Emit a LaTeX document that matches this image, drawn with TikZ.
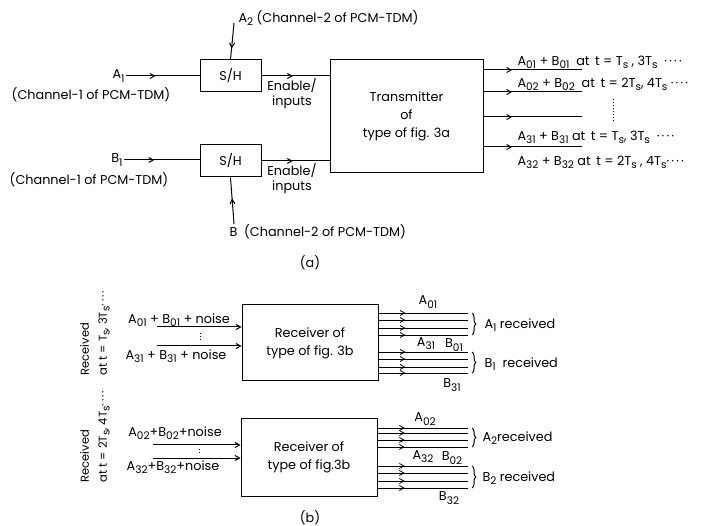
\documentclass[tikz,border=0pt]{standalone}
\usepackage{fontspec}
\setmainfont{Poppins}
\usetikzlibrary{arrows.meta, decorations.markings, decorations.pathreplacing}

% lowered subscript as printed in the figure
\newcommand{\lo}[1]{\raisebox{-0.45ex}{\fontsize{10.5}{11}\selectfont #1}}
\newcommand{\dotrow}{\textperiodcentered\,\textperiodcentered\,\textperiodcentered\,\textperiodcentered}

\begin{document}
\begin{tikzpicture}[x=1pt, y=-1pt, >={Straight Barb[length=4.5pt, width=5pt]}, line width=1pt,
  txt/.style={font=\fontsize{12.8}{15}\selectfont, inner sep=1pt},
  blk/.style={draw, rectangle, font=\fontsize{12.8}{18}\selectfont, align=center, inner sep=2pt},
  midarrow/.style={postaction={decorate}, decoration={markings, mark=at position #1 with {\arrow{>}}}},
  midarrow/.default=0.5,
  rcvbrace/.style={decorate, decoration={brace, amplitude=4pt}}]

\useasboundingbox (0,0) rectangle (715,526);

% ---------------- (a) transmitter side ----------------
\node[blk, minimum width=61pt, minimum height=32pt] (shA) at (230.5,76) {S/H};
\node[blk, minimum width=61pt, minimum height=32pt] (shB) at (230.5,161) {S/H};
\node[blk, minimum width=153pt, minimum height=113pt] (tx) at (406.5,116.5)
  {Transmitter\\of\\type of fig. 3a};

% channel-1 inputs
\node[txt, anchor=east] (a1) at (126,76) {A\lo{1}};
\node[txt] (ch1a) at (91,95) {(Channel-1 of PCM-TDM)};
\node[txt, anchor=east] (b1) at (124,160) {B\lo{1}};
\node[txt] (ch1b) at (89,180) {(Channel-1 of PCM-TDM)};
\draw[midarrow=0.4] (a1.east) -- (shA.west);
\draw[midarrow=0.4] (b1.east) -- (b1.east -| shB.west);

% channel-2 inputs
\node[txt, anchor=west] (a2) at (237,18) {A\lo{2} (Channel-2 of PCM-TDM)};
\coordinate (a2in) at (234,23);
\draw[midarrow=0.7] (a2in) -- (shA.north);
\node[txt, anchor=west] (b2) at (228,232) {B\ \ (Channel-2 of PCM-TDM)};
\coordinate (b2in) at (234,224);
\draw[midarrow=0.55] (b2in) -- (shB.south);

% S/H to transmitter
\draw[midarrow=0.46] (shA.east) -- (shA.east -| tx.west);
\draw[midarrow=0.46] (shB.east) -- (shB.east -| tx.west);
\node[txt, align=center] (enA) at (292,94) {Enable/\\inputs};
\node[txt, align=center] (enB) at (292,179) {Enable/\\inputs};

% transmitter outputs
\foreach \yy/\nm in {70/t1, 92/t2, 117/t3, 147/t4} {
  \coordinate (\nm) at (582,\yy);
  \draw[midarrow=0.29] (tx.east |- \nm) -- (\nm);
}
\node[txt, anchor=west] (out1) at (516,62) {A\lo{01} + B\lo{01}\ \ at \,t = T\lo{s} , 3T\lo{s}\ \ \dotrow};
\node[txt, anchor=west] (out2) at (516,84) {A\lo{02} + B\lo{02}\ \ at \,t = 2T\lo{s}, 4T\lo{s} \dotrow};
\node[txt, anchor=west] (out3) at (516,137) {A\lo{31} + B\lo{31}\ at \,t = T\lo{s}, 3T\lo{s}\ \ \dotrow};
\node[txt, anchor=west] (out4) at (516,162) {A\lo{32} + B\lo{32}\ at \,t = 2T\lo{s} , 4T\lo{s}\dotrow};
\draw[dotted, line width=1pt] (613,99) -- (613,122);

\node[txt] (capa) at (310,263) {(a)};

% ---------------- (b) receiver side ----------------
\node[blk, minimum width=136pt, minimum height=76pt] (rx1) at (310,343) {Receiver of\\type of fig. 3b};
\node[blk, minimum width=136pt, minimum height=77pt] (rx2) at (309,457.5) {Receiver of\\type of fig.3b};

\node[txt, rotate=90, anchor=west, align=left, font=\fontsize{11.5}{18}\selectfont] (rcv1) at (95,377)
  {Received\\at t = T\lo{s}, 3T\lo{s}\dotrow};
\node[txt, rotate=90, anchor=west, align=left, font=\fontsize{11.5}{18}\selectfont] (rcv2) at (95,484)
  {Received\\at t = 2T\lo{s}, 4T\lo{s}\dotrow};

% receiver inputs
\node[txt] (in1) at (179,320) {A\lo{01} + B\lo{01} + noise};
\node[txt] (in2) at (176,356) {A\lo{31} + B\lo{31} + noise};
\coordinate (i1) at (157,327);
\coordinate (i2) at (157,346);
\draw[->] (i1) -- (i1 -| rx1.west);
\draw[->] (i2) -- (i2 -| rx1.west);
\draw[dotted] (200,333) -- (200,342);

\node[txt] (in3) at (175,433) {A\lo{02}+B\lo{02}+noise};
\node[txt] (in4) at (173,467) {A\lo{32}+B\lo{32}+noise};
\coordinate (i3) at (153,445);
\coordinate (i4) at (153,458);
\draw[->] (i3) -- (i3 -| rx2.west);
\draw[->] (i4) -- (i4 -| rx2.west);
\draw[dotted] (199,449) -- (199,453);

% receiver outputs
\foreach \yy [count=\i] in {313,320,328,335,352,359,367,373} {
  \coordinate (p\i) at (468,\yy);
  \draw[midarrow=0.3, line width=0.8pt] (rx1.east |- p\i) -- (p\i);
}
\foreach \yy [count=\i] in {428,433,440,447,466,473,481,488} {
  \coordinate (q\i) at (468,\yy);
  \draw[midarrow=0.3, line width=0.8pt] (rx2.east |- q\i) -- (q\i);
}

\node[txt] (la01) at (428,302) {A\lo{01}};
\node[txt] (la31) at (426,344) {A\lo{31}};
\node[txt] (lb01) at (454,345) {B\lo{01}};
\node[txt] (lb31) at (452,385) {B\lo{31}};
\node[txt] (la02) at (425,419) {A\lo{02}};
\node[txt] (la32) at (423,457) {A\lo{32}};
\node[txt] (lb02) at (452,458) {B\lo{02}};
\node[txt] (lb32) at (449,498) {B\lo{32}};

\draw[rcvbrace] ([xshift=4pt]p1) -- ([xshift=4pt]p4);
\draw[rcvbrace] ([xshift=4pt]p5) -- ([xshift=4pt]p8);
\draw[rcvbrace] ([xshift=4pt]q1) -- ([xshift=4pt]q4);
\draw[rcvbrace] ([xshift=4pt]q5) -- ([xshift=4pt]q8);
\node[txt, anchor=west] (ra1) at (483,325) {A\lo{1} received};
\node[txt, anchor=west] (rb1) at (483,364) {B\lo{1}\ \ received};
\node[txt, anchor=west] (ra2) at (481,438) {A\lo{2}received};
\node[txt, anchor=west] (rb2) at (481,478) {B\lo{2} received};

\node[txt] (capb) at (310,518) {(b)};

\end{tikzpicture}
\end{document}
